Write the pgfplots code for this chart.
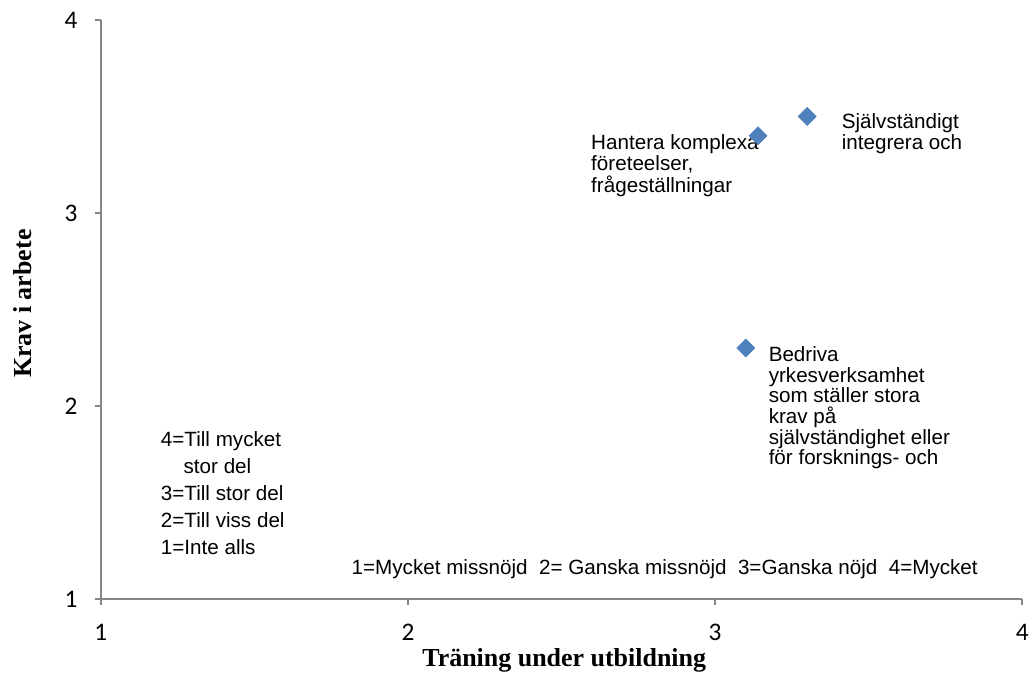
\documentclass[border=0pt]{standalone}
\usepackage{fontspec}
\setmainfont{Liberation Sans}
\newfontfamily\calibri{Carlito}
\newfontfamily\titlefont{Liberation Serif}
\usepackage{pgfplots}
\pgfplotsset{compat=1.18}

\definecolor{ptblue}{HTML}{4F81BD}
\definecolor{ptedge}{HTML}{4A7EBB}
\definecolor{axgray}{HTML}{868686}

\tikzset{ann/.style={font=\fontsize{15.5}{15.5}\selectfont, inner sep=0pt, align=left}}

\begin{document}
\begin{tikzpicture}
\begin{axis}[
    name=ax,
    scale only axis,
    width=692.25pt, height=435pt,
    xmin=1, xmax=4, ymin=1, ymax=4,
    axis x line=bottom, axis y line=left,
    axis line style={-, axgray, line width=1.2pt},
    xtick={1,2,3,4}, ytick={1,2,3,4},
    tick align=outside,
    major tick length=4.5pt,
    tick style={axgray, line width=1.2pt},
    /pgf/number format/assume math mode=true,
    tick label style={font=\calibri\fontsize{19}{22}\selectfont},
    xticklabel style={yshift=-11pt},
    yticklabel style={xshift=-9.5pt},
    xlabel={Träning under utbildning},
    ylabel={Krav i arbete},
    label style={font=\titlefont\bfseries\fontsize{19.5}{22}\selectfont},
    xlabel style={at={(axis description cs:0.503,0)}, anchor=base, yshift=-50.5pt},
    ylabel style={at={(axis description cs:0,0.51)}, anchor=center, yshift=59pt},
    clip=false,
]
\addplot[only marks, mark=square*, mark size=4.8pt,
    mark options={rotate=45, fill=ptblue, draw=ptedge}]
    coordinates {(3.14,3.4) (3.3,3.5) (3.1,2.3)};

\node[ann, anchor=north west, font=\fontsize{15.5}{16.5}\selectfont]
    at (axis cs:2.596,3.41) {Hantera komplexa\\företeelser,\\frågeställningar};
\node[ann, anchor=north west]
    at (axis cs:3.412,3.514) {Självständigt\\integrera och};
\node[ann, anchor=north west]
    at (axis cs:3.174,2.309) {Bedriva\\yrkesverksamhet\\som ställer stora\\krav på\\självständighet eller\\för forsknings- och};
\node[ann, anchor=north west, font=\fontsize{15.5}{20.25}\selectfont]
    at (axis cs:1.195,1.869) {4=Till mycket\\\hspace*{1.1em}stor del\\3=Till stor del\\2=Till viss del\\1=Inte alls};
\node[ann, anchor=base west]
    at (axis cs:1.816,1.129) {1=Mycket missnöjd\ \ 2= Ganska missnöjd\ \ 3=Ganska nöjd\ \ 4=Mycket};
\end{axis}
\path (ax.south west) ++(-75.75pt,-57.75pt) rectangle ++(774.75pt,507.75pt);
\end{tikzpicture}
\end{document}
